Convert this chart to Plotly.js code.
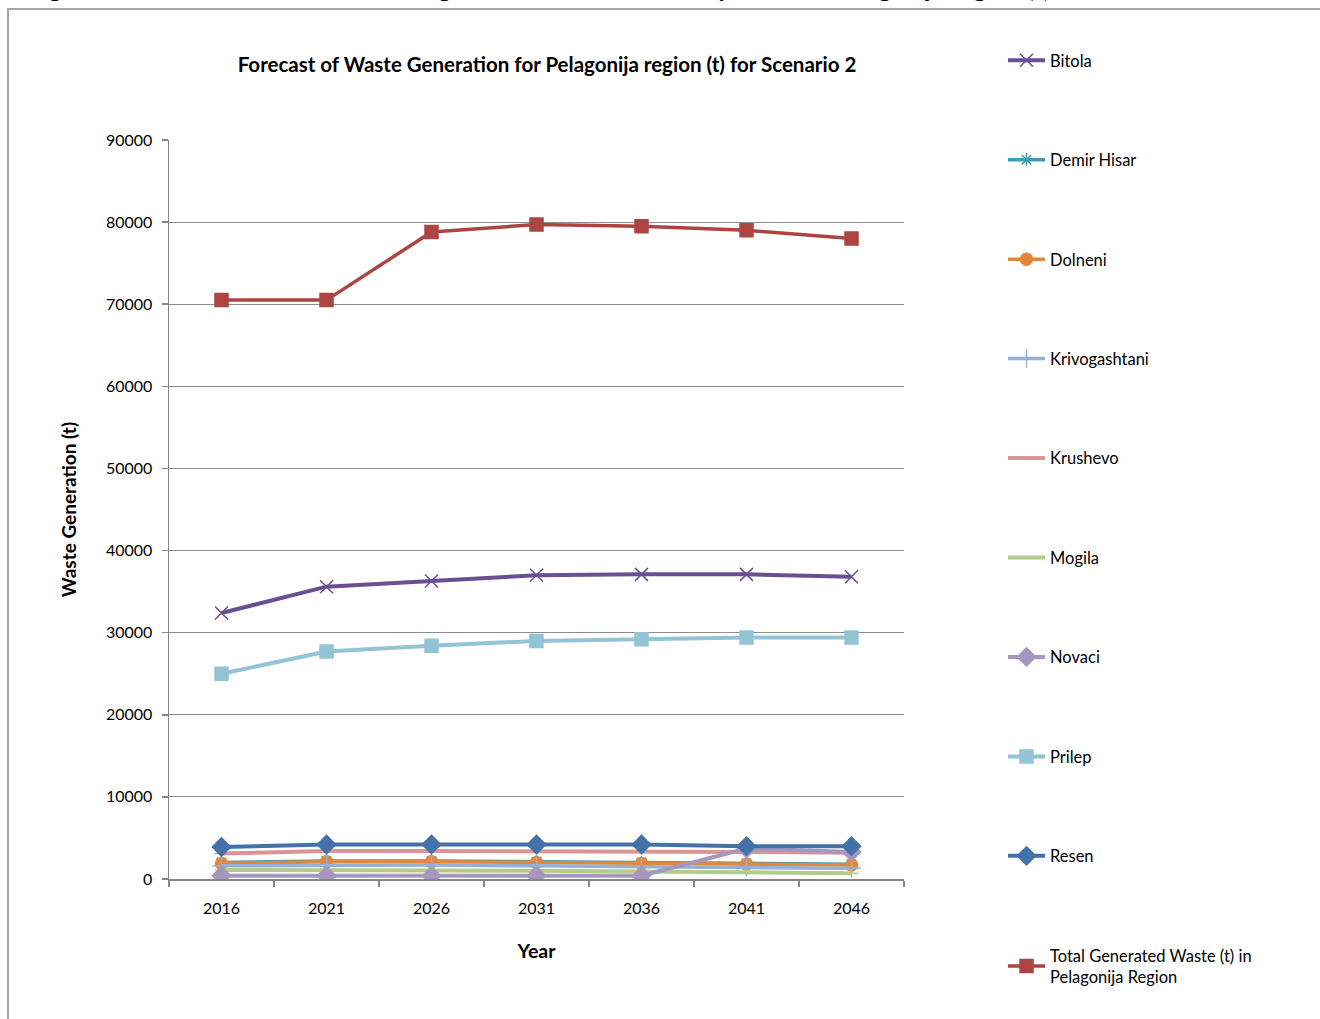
<!DOCTYPE html>
<html>
<head>
<meta charset="utf-8">
<script src="https://cdn.plot.ly/plotly-3.0.1.min.js"></script>
<style>
  html, body { margin: 0; padding: 0; background: #ffffff; }
  #frame { position: absolute; left: 7px; top: 8px; width: 1320px; height: 1020px;
           border-left: 2px solid #a6a6a6; border-top: 2px solid #a6a6a6; box-sizing: border-box; }
  #chart { position: absolute; left: 0; top: 0; width: 1320px; height: 1019px; }
</style>
</head>
<body>
<div id="frame"></div>
<div id="chart"></div>
<script>
// ---- data (t) ----
const years = ['2016', '2021', '2026', '2031', '2036', '2041', '2046'];
const bitola        = [32400, 35600, 36300, 37000, 37100, 37100, 36800];
const demirHisar    = [2000, 2200, 2200, 2100, 2000, 1900, 1800];
const dolneni       = [1900, 2100, 2100, 2000, 1900, 1800, 1700];
const krivogashtani = [1600, 1700, 1700, 1600, 1500, 1400, 1300];
const krushevo      = [3100, 3400, 3400, 3400, 3400, 3300, 3200];
const mogila        = [1100, 1100, 1100, 1000, 900, 800, 700];
const novaci        = [400, 400, 400, 400, 400, 3700, 3300];
const prilep        = [25000, 27700, 28400, 29000, 29200, 29400, 29400];
const resen         = [3900, 4200, 4200, 4200, 4200, 4000, 4000];
const total         = [70500, 70500, 78800, 79700, 79500, 79000, 78000];

const seriesNames = ['Bitola', 'Demir Hisar', 'Dolneni', 'Krivogashtani', 'Krushevo', 'Mogila',
  'Novaci', 'Prilep', 'Resen', 'Total Generated Waste (t) in<br>Pelagonija Region'];
const seriesValues = [bitola, demirHisar, dolneni, krivogashtani, krushevo, mogila, novaci, prilep, resen, total];

const styles = [
  {color: '#6b4f95', symbol: 'x-thin-open', size: 13, width: 4},
  {color: '#3f9ab3', symbol: 'asterisk-open', size: 11, width: 3.5},
  {color: '#e3873a', symbol: 'circle', size: 12, width: 3.5},
  {color: '#95b1d8', symbol: 'cross-thin-open', size: 13, width: 3.5},
  {color: '#d99694', symbol: 'line-ew-open', size: 10, width: 4},
  {color: '#b3cc8a', symbol: 'line-ew-open', size: 10, width: 4},
  {color: '#a597bd', symbol: 'diamond', size: 14, width: 4},
  {color: '#93c4d6', symbol: 'square', size: 13, width: 4},
  {color: '#4471aa', symbol: 'diamond', size: 14, width: 4},
  {color: '#ac4441', symbol: 'square', size: 13, width: 3.5}
];

const traces = seriesNames.map((n, i) => ({
  type: 'scatter',
  mode: 'lines+markers',
  x: years,
  y: seriesValues[i],
  name: n,
  legendgroup: 'g' + i,
  line: {color: styles[i].color, width: styles[i].width},
  marker: {color: styles[i].color, symbol: styles[i].symbol, size: styles[i].size,
           line: {color: styles[i].color, width: 1.5}},
  hoverinfo: 'skip'
}));

const W = 1320, H = 1019;
const L = 169, R = 904, T = 140, B = 879;
const px2x = p => (p - L) / (R - L);
const px2y = p => (B - p) / (B - T);

const layout = {
  width: W, height: H,
  margin: {l: L, r: W - R, t: T, b: H - B, pad: 0},
  paper_bgcolor: 'rgba(0,0,0,0)',
  plot_bgcolor: 'rgba(0,0,0,0)',
  font: {family: 'Lato, "Open Sans", sans-serif', color: '#000000', size: 15},
  title: {
    text: '<b>Forecast of Waste Generation for Pelagonija region (t) for Scenario 2</b>',
    font: {family: 'Lato, sans-serif', size: 20.5, color: '#000000'},
    x: 547 / W, xanchor: 'center', y: 1 - 65 / H, yanchor: 'middle'
  },
  xaxis: {
    type: 'category',
    range: [-0.5, 6.5],
    tickson: 'boundaries',
    ticks: 'outside', ticklen: 6, tickwidth: 1.5, tickcolor: '#868686',
    showline: true, linecolor: '#868686', linewidth: 1.5,
    showgrid: false, zeroline: false,
    tickfont: {family: 'Lato, sans-serif', size: 16, color: '#000000'},
    ticklabelstandoff: 14,
    title: {text: '<b>Year</b>', font: {family: 'Lato, sans-serif', size: 19.5, color: '#000000'}, standoff: 28},
    fixedrange: true
  },
  yaxis: {
    range: [0, 90000],
    dtick: 10000,
    tickformat: 'd',
    ticks: 'outside', ticklen: 6, tickwidth: 1.5, tickcolor: '#868686',
    showline: true, linecolor: '#868686', linewidth: 1.5,
    showgrid: true, gridcolor: '#8c8c8c', gridwidth: 1,
    zeroline: false,
    tickfont: {family: 'Lato, sans-serif', size: 16, color: '#000000'},
    ticklabelstandoff: 6,
    title: {text: '<b>Waste Generation (t)</b>', font: {family: 'Lato, sans-serif', size: 19, color: '#000000'}, standoff: 24},
    fixedrange: true
  },
  showlegend: true,
  legend: {
    x: px2x(1003), xanchor: 'left',
    y: px2y(43), yanchor: 'top',
    tracegroupgap: 75,
    itemwidth: 37,
    maxheight: 1000,
    font: {family: 'Lato, sans-serif', size: 16.5, color: '#000000'},
    bgcolor: 'rgba(0,0,0,0)',
    borderwidth: 0
  },
  annotations: [{
    xref: 'paper', yref: 'paper',
    x: px2x(26), xanchor: 'left',
    y: px2y(-13), yanchor: 'middle',
    text: '<b>Figure 3: Forecast of the total Waste generation for the municipalities in Pelagonija region (t) for Scenario 2</b>',
    showarrow: false,
    font: {family: 'Lato, sans-serif', size: 25, color: '#000000'}
  }],
  hovermode: false
};

Plotly.newPlot('chart', traces, layout, {staticPlot: true, displayModeBar: false});
</script>
</body>
</html>
